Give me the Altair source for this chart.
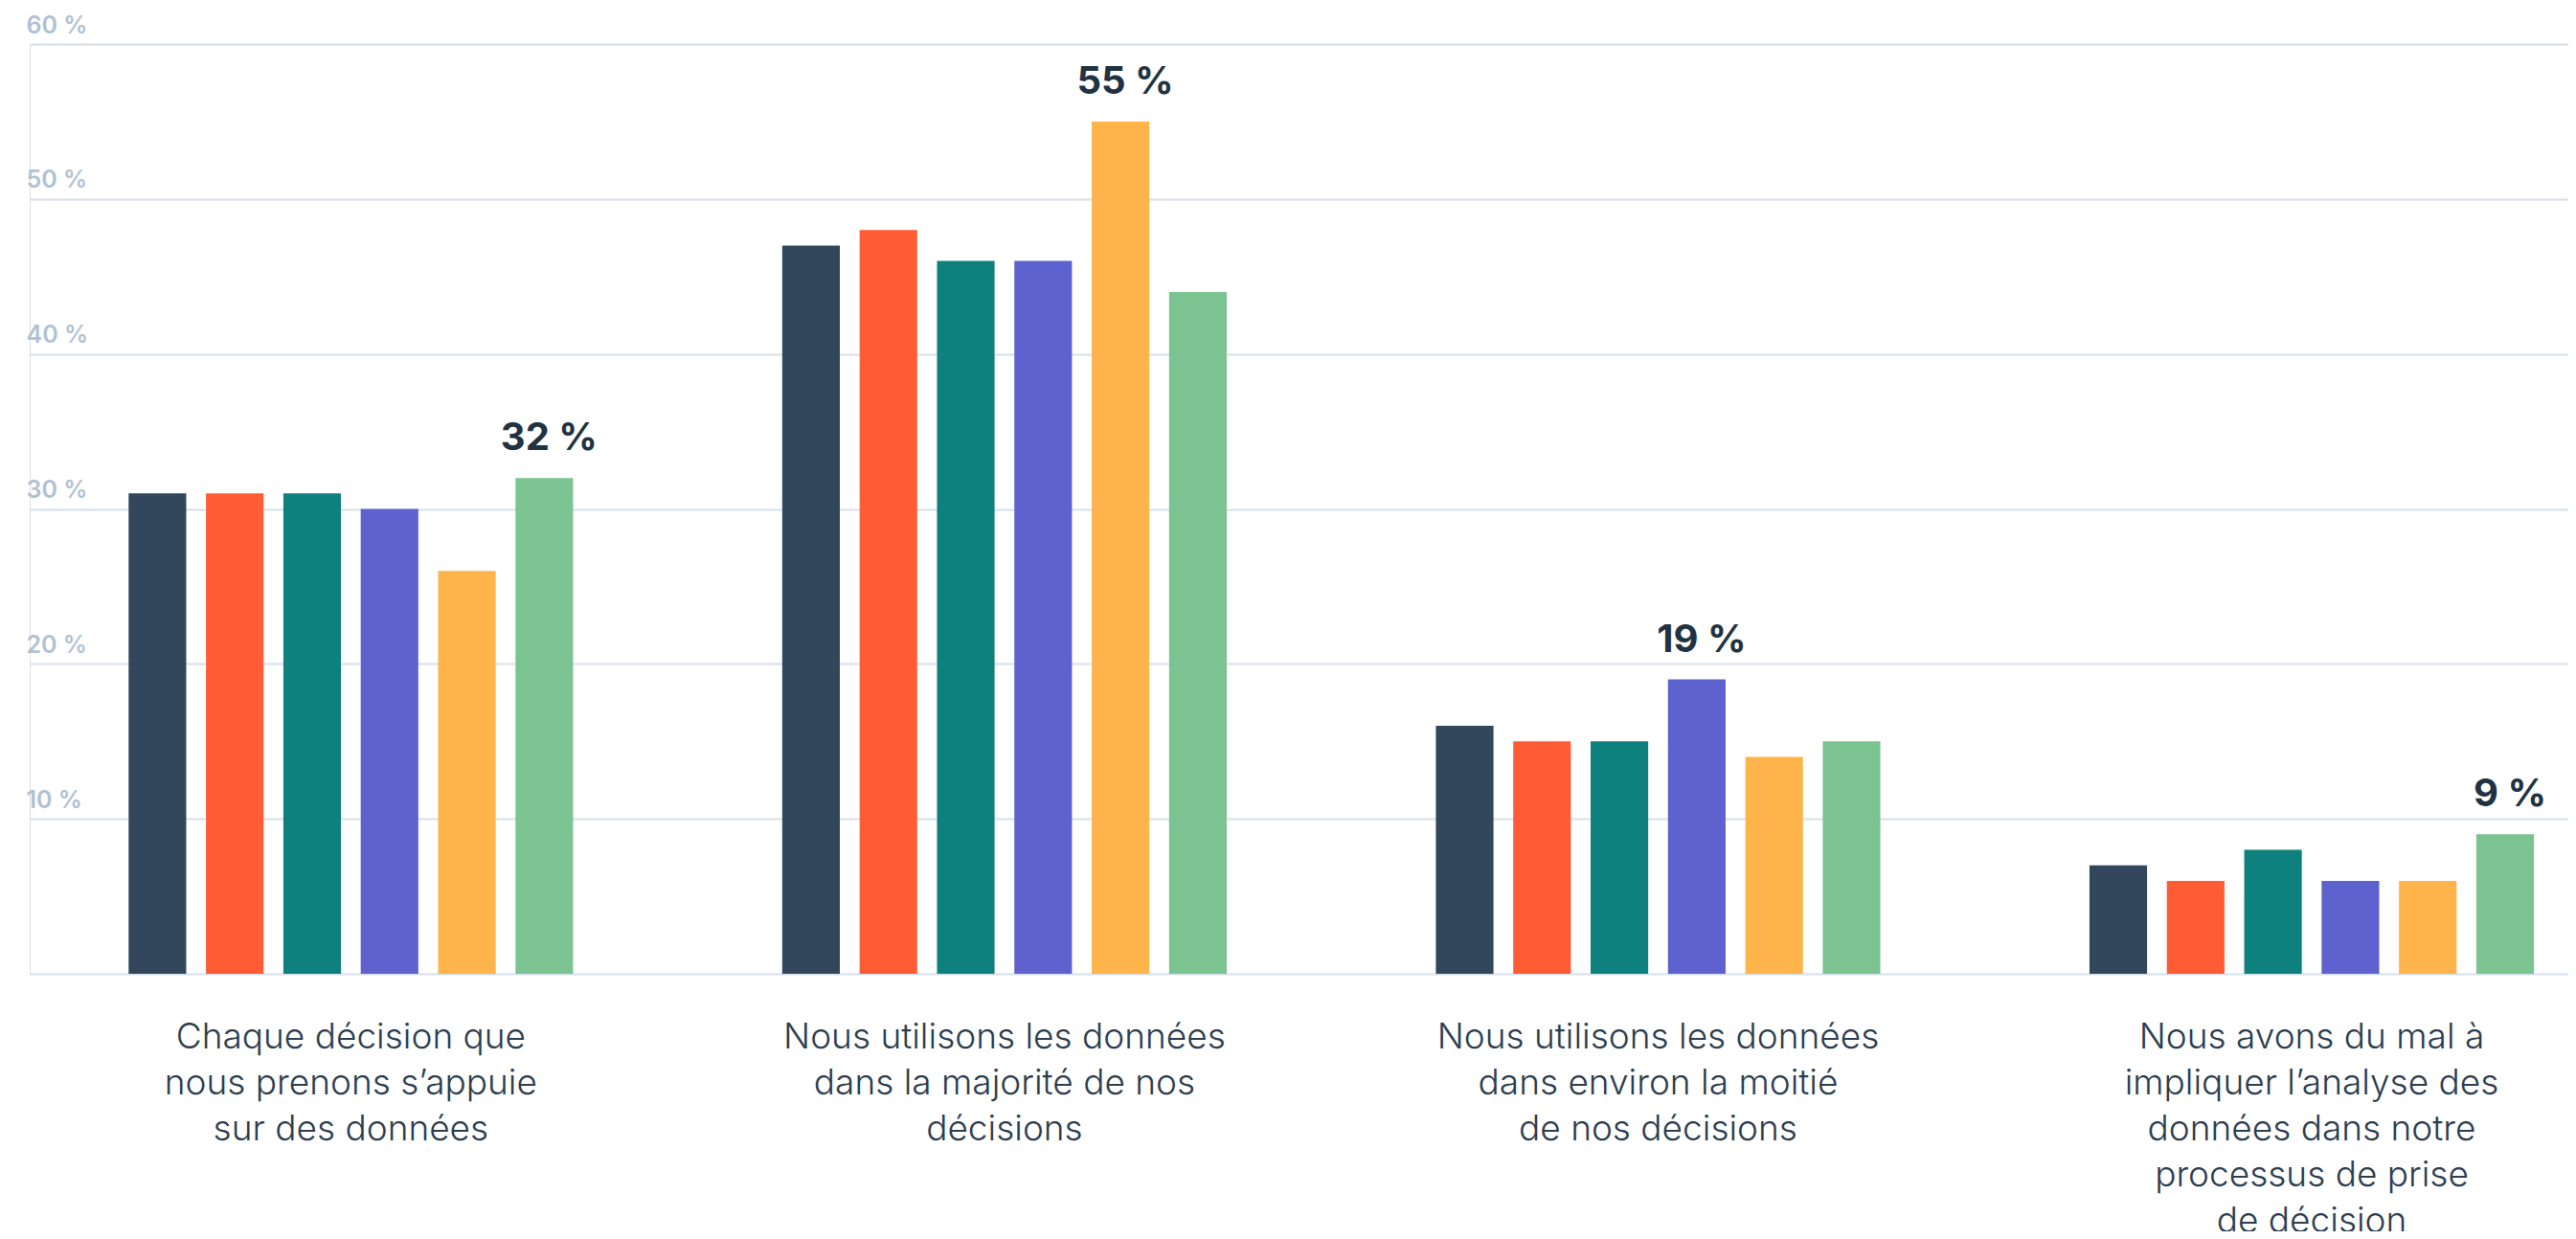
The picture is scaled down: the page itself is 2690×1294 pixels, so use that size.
import altair as alt
import pandas as pd

categories = [
    "Chaque décision que|nous prenons s’appuie|sur des données",
    "Nous utilisons les données|dans la majorité de nos|décisions",
    "Nous utilisons les données|dans environ la moitié|de nos décisions",
    "Nous avons du mal à|impliquer l’analyse des|données dans notre|processus de prise|de décision",
]
series = ["Série 1", "Série 2", "Série 3", "Série 4", "Série 5", "Série 6"]
colors = ["#32475c", "#ff5c35", "#0e807e", "#5d62cf", "#ffb44b", "#7bc492"]

s1 = [31, 47, 16, 7]
s2 = [31, 48, 15, 6]
s3 = [31, 46, 15, 8]
s4 = [30, 46, 19, 6]
s5 = [26, 55, 14, 6]
s6 = [32, 44, 15, 9]
all_series = [s1, s2, s3, s4, s5, s6]

rows = []
for name, vals in zip(series, all_series):
    for cat, v in zip(categories, vals):
        rows.append({"cat": cat, "series": name, "value": v})
df = pd.DataFrame(rows)

FONT = "Inter"

x_enc = alt.X(
    "cat:N",
    sort=categories,
    title=None,
    scale=alt.Scale(paddingInner=0.32, paddingOuter=0.102, align=0.742),
    axis=alt.Axis(
        labelExpr="split(datum.label, '|')",
        labelAngle=0,
        labelFont=FONT,
        labelFontSize=37,
        labelFontWeight=300,
        labelColor="#2d3e50",
        labelLineHeight=48,
        labelPadding=48,
        labelLimit=1000,
        domain=False,
        ticks=False,
        grid=False,
    ),
)
xo_enc = alt.XOffset(
    "series:N", sort=series, scale=alt.Scale(paddingInner=0.2556, paddingOuter=0)
)
y_enc = alt.Y(
    "value:Q",
    title=None,
    scale=alt.Scale(domain=[0, 60], nice=False),
    axis=alt.Axis(
        values=[0, 10, 20, 30, 40, 50, 60],
        labelExpr="datum.value == 0 ? '' : datum.value + ' %'",
        labelAlign="left",
        labelBaseline="bottom",
        labelOffset=-7,
        labelPadding=4,
        tickSize=0,
        ticks=False,
        domain=False,
        grid=True,
        gridColor="#d6dfe9",
        gridWidth=2,
        labelFont=FONT,
        labelFontSize=25,
        labelFontWeight=600,
        labelColor="#b0c1d3",
    ),
)

bars = alt.Chart(df).mark_bar().encode(
    x=x_enc,
    xOffset=xo_enc,
    y=y_enc,
    color=alt.Color(
        "series:N", sort=series, scale=alt.Scale(domain=series, range=colors), legend=None
    ),
)

labels = (
    alt.Chart(df)
    .transform_joinaggregate(maxv="max(value)", groupby=["cat"])
    .transform_filter("datum.value == datum.maxv")
    .transform_calculate(label="datum.value + ' %'")
    .mark_text(
        font=FONT,
        fontSize=40,
        fontWeight="bold",
        color="#213343",
        baseline="alphabetic",
        dy=-29,
        dx=5,
    )
    .encode(x=x_enc, xOffset=xo_enc, y=y_enc, text="label:N")
)

chart = (
    alt.layer(bars, labels)
    .properties(
        width=2651,
        height=971,
        autosize=alt.AutoSizeParams(type="none"),
        padding={"left": 23, "top": 38, "right": 0, "bottom": 269},
    )
    .configure_view(stroke=None)
    .configure(background="white")
)

chart.save("out.html", embed_options={"renderer": "svg", "actions": False})
